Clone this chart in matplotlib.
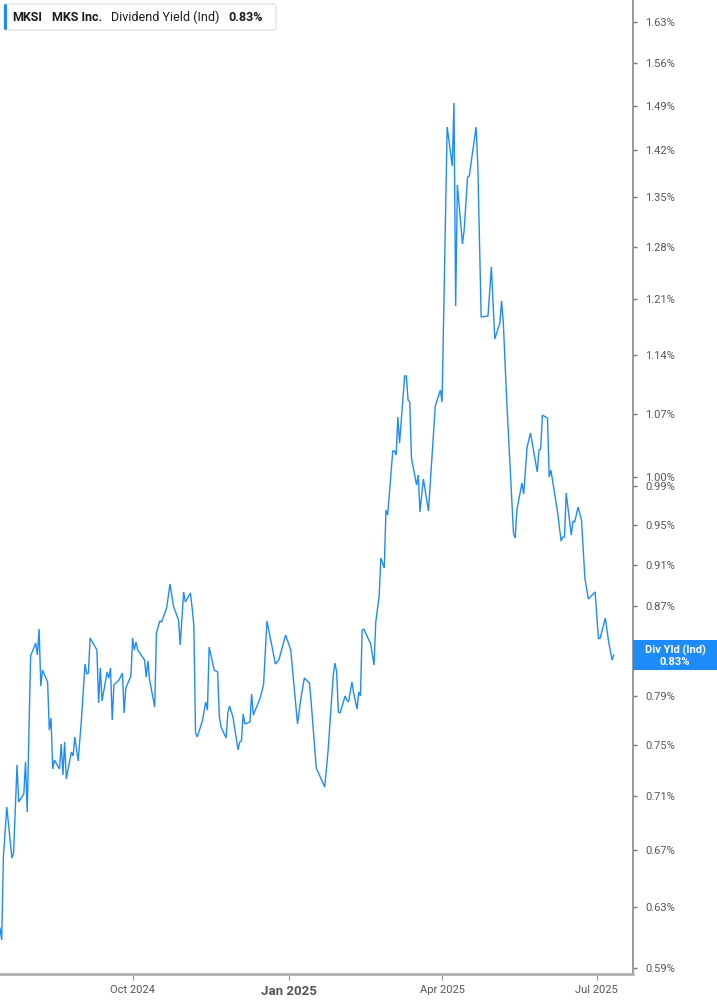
import matplotlib
matplotlib.use("Agg")
import matplotlib.pyplot as plt
from matplotlib.patches import FancyBboxPatch, Rectangle
from matplotlib.ticker import FixedLocator, NullLocator, FuncFormatter
import pandas as pd

plt.rcParams['font.family'] = ['Roboto', 'DejaVu Sans']

dates = [
    "2024-07-15", "2024-07-16", "2024-07-17", "2024-07-19", "2024-07-22", "2024-07-23", "2024-07-25", "2024-07-26",
    "2024-07-29", "2024-07-30", "2024-07-31", "2024-08-02", "2024-08-05", "2024-08-06", "2024-08-07", "2024-08-08",
    "2024-08-09", "2024-08-12", "2024-08-13", "2024-08-14", "2024-08-15", "2024-08-16", "2024-08-19", "2024-08-20",
    "2024-08-21", "2024-08-22", "2024-08-23", "2024-08-26", "2024-08-27", "2024-08-28", "2024-08-30", "2024-09-01",
    "2024-09-03", "2024-09-04", "2024-09-05", "2024-09-06", "2024-09-10", "2024-09-11", "2024-09-12", "2024-09-13",
    "2024-09-16", "2024-09-17", "2024-09-18", "2024-09-19", "2024-09-20", "2024-09-23", "2024-09-25", "2024-09-26",
    "2024-09-27", "2024-09-30", "2024-10-01", "2024-10-02", "2024-10-03", "2024-10-04", "2024-10-08", "2024-10-09",
    "2024-10-10", "2024-10-11", "2024-10-14", "2024-10-15", "2024-10-17", "2024-10-18", "2024-10-21", "2024-10-23",
    "2024-10-25", "2024-10-28", "2024-10-29", "2024-10-31", "2024-11-01", "2024-11-04", "2024-11-05", "2024-11-06",
    "2024-11-07", "2024-11-08", "2024-11-11", "2024-11-13", "2024-11-14", "2024-11-15", "2024-11-18", "2024-11-20",
    "2024-11-21", "2024-11-22", "2024-11-25", "2024-11-26", "2024-11-27", "2024-11-29", "2024-12-02", "2024-12-03",
    "2024-12-04", "2024-12-05", "2024-12-06", "2024-12-09", "2024-12-10", "2024-12-11", "2024-12-15", "2024-12-17",
    "2024-12-19", "2024-12-21", "2024-12-24", "2024-12-26", "2024-12-30", "2025-01-02", "2025-01-06", "2025-01-08",
    "2025-01-10", "2025-01-13", "2025-01-14", "2025-01-17", "2025-01-22", "2025-01-24", "2025-01-27", "2025-01-28",
    "2025-01-29", "2025-01-30", "2025-01-31", "2025-02-03", "2025-02-04", "2025-02-05", "2025-02-07", "2025-02-08",
    "2025-02-10", "2025-02-11", "2025-02-12", "2025-02-13", "2025-02-14", "2025-02-18", "2025-02-20", "2025-02-21",
    "2025-02-23", "2025-02-24", "2025-02-26", "2025-02-27", "2025-02-28", "2025-03-03", "2025-03-04", "2025-03-05",
    "2025-03-06", "2025-03-07", "2025-03-10", "2025-03-11", "2025-03-12", "2025-03-13", "2025-03-14", "2025-03-17",
    "2025-03-18", "2025-03-19", "2025-03-21", "2025-03-24", "2025-03-28", "2025-03-31", "2025-04-01", "2025-04-04",
    "2025-04-07", "2025-04-08", "2025-04-09", "2025-04-10", "2025-04-13", "2025-04-14", "2025-04-16", "2025-04-17",
    "2025-04-21", "2025-04-22", "2025-04-24", "2025-04-28", "2025-04-30", "2025-05-02", "2025-05-05", "2025-05-06",
    "2025-05-07", "2025-05-09", "2025-05-11", "2025-05-13", "2025-05-14", "2025-05-15", "2025-05-18", "2025-05-19",
    "2025-05-21", "2025-05-23", "2025-05-27", "2025-05-28", "2025-05-29", "2025-05-30", "2025-06-02", "2025-06-03",
    "2025-06-04", "2025-06-08", "2025-06-10", "2025-06-11", "2025-06-12", "2025-06-13", "2025-06-16", "2025-06-17",
    "2025-06-18", "2025-06-20", "2025-06-22", "2025-06-24", "2025-06-26", "2025-06-30", "2025-07-02", "2025-07-03",
    "2025-07-06", "2025-07-08", "2025-07-10", "2025-07-11",
]

div_yield = [
    0.6159, 0.6080, 0.6647, 0.7014, 0.6640, 0.6676, 0.7338, 0.7052,
    0.7113, 0.7361, 0.6976, 0.8249, 0.8365, 0.8258, 0.8491, 0.7987,
    0.8125, 0.8022, 0.7618, 0.7717, 0.7306, 0.7377, 0.7306, 0.7505,
    0.7259, 0.7521, 0.7228, 0.7441, 0.7409, 0.7561, 0.7369, 0.7726,
    0.8178, 0.8091, 0.8099, 0.8410, 0.8302, 0.7843, 0.8143, 0.7860,
    0.8108, 0.8056, 0.8143, 0.7701, 0.7996, 0.8039, 0.8099, 0.7759,
    0.7970, 0.8074, 0.8410, 0.8302, 0.8374, 0.8302, 0.8213, 0.8065,
    0.8205, 0.8039, 0.7809, 0.8455, 0.8565, 0.8555, 0.8685, 0.8912,
    0.8704, 0.8574, 0.8347, 0.8836, 0.8741, 0.8826, 0.8685, 0.8528,
    0.7594, 0.7561, 0.7692, 0.7851, 0.7784, 0.8329, 0.8125, 0.8108,
    0.7726, 0.7643, 0.7553, 0.7759, 0.7817, 0.7726, 0.7457, 0.7521,
    0.7529, 0.7751, 0.7668, 0.7684, 0.7919, 0.7742, 0.7885, 0.7996,
    0.8565, 0.8410, 0.8178, 0.8213, 0.8437, 0.8302, 0.7668, 0.7885,
    0.8056, 0.8013, 0.7851, 0.7314, 0.7166, 0.7457, 0.8082, 0.8187,
    0.8108, 0.7767, 0.7759, 0.7902, 0.7868, 0.7851, 0.8022, 0.7927,
    0.7792, 0.7936, 0.7902, 0.8482, 0.8491, 0.8356, 0.8169, 0.8555,
    0.8798, 0.9164, 0.9066, 0.9649, 0.9597, 1.0280, 1.0280, 1.0236,
    1.0663, 1.0369, 1.1143, 1.1143, 1.0859, 1.0836, 1.0203, 0.9911,
    1.0018, 0.9628, 0.9976, 0.9638, 1.0789, 1.0976, 1.0836, 1.4560,
    1.3963, 1.4940, 1.2013, 1.3681, 1.2841, 1.3035, 1.3799, 1.3814,
    1.4560, 1.3993, 1.1872, 1.1885, 1.2527, 1.1595, 1.1796, 1.2078,
    1.1808, 1.0859, 1.0105, 0.9413, 0.9363, 0.9649, 0.9933, 0.9816,
    1.0324, 1.0481, 1.0051, 1.0292, 1.0303, 1.0685, 1.0651, 0.9997,
    1.0072, 0.9618, 0.9333, 0.9373, 0.9373, 0.9827, 0.9393, 0.9535,
    0.9525, 0.9680, 0.9546, 0.8969, 0.8769, 0.8836, 0.8401, 0.8410,
    0.8592, 0.8374, 0.8213, 0.8258,
]

y_ticks = [0.59, 0.63, 0.67, 0.71, 0.75, 0.79, 0.87, 0.91, 0.95, 0.99, 1.00,
           1.07, 1.14, 1.21, 1.28, 1.35, 1.42, 1.49, 1.56, 1.63]
x_ticks = ["2024-10-01", "2025-01-01", "2025-04-01", "2025-07-01"]
x_tick_labels = ["Oct 2024", "Jan 2025", "Apr 2025", "Jul 2025"]
x_range = ["2024-07-15", "2025-07-22"]
y_range = [0.5862, 1.6688]

ticker_sym = "MKSI"
company = "MKS Inc."
metric = "Dividend Yield (Ind)"
last_label = "Div Yld (Ind)"
last_value = div_yield[-1]

BLUE = "#1E8CF8"
W, H = 717, 1005
fig = plt.figure(figsize=(W / 100, H / 100), dpi=100)
fig.patch.set_facecolor("white")

ax_bottom_px = 974
ax_right_px = 632.5
ax = fig.add_axes([0, (H - ax_bottom_px) / H, ax_right_px / W, ax_bottom_px / H])
x = pd.to_datetime(dates)
ax.plot(x, div_yield, color=BLUE, lw=1.0, solid_joinstyle="miter")

ax.set_yscale("log")
ax.set_ylim(*y_range)
ax.set_xlim(pd.to_datetime(x_range[0]), pd.to_datetime(x_range[1]))

ax.yaxis.set_major_locator(FixedLocator(y_ticks))
ax.yaxis.set_minor_locator(NullLocator())
ax.yaxis.set_major_formatter(FuncFormatter(lambda v, p: f"{v:.2f}%"))
ax.yaxis.tick_right()
ax.tick_params(axis="y", which="major", direction="out", length=3, width=1,
               color="#777777", labelsize=8, labelcolor="#555555", pad=6)

ax.set_xticks(pd.to_datetime(x_ticks))
ax.set_xticklabels(x_tick_labels)
ax.tick_params(axis="x", direction="out", length=4, width=0.8, color="#999999",
               labelsize=8, labelcolor="#555555", pad=4)
for lbl in ax.get_xticklabels():
    if lbl.get_text() == "Jan 2025":
        lbl.set_fontweight("bold")
        lbl.set_fontsize(9.5)

for s in ["top", "left"]:
    ax.spines[s].set_visible(False)
ax.spines["right"].set_color("#9a9a9a")
ax.spines["right"].set_linewidth(1.4)
ax.spines["bottom"].set_color("#b0b0b0")
ax.spines["bottom"].set_linewidth(2.0)
ax.set_facecolor("white")

# overlay in pixel coordinates for header and value label
ov = fig.add_axes([0, 0, 1, 1], facecolor="none")
ov.set_xlim(0, W)
ov.set_ylim(H, 0)
ov.axis("off")

ov.add_patch(FancyBboxPatch((4, 4), 272, 26, boxstyle="round,pad=0,rounding_size=3",
                            facecolor="white", edgecolor="#e3e3e3", lw=1.0))
ov.add_patch(FancyBboxPatch((4, 4), 3, 26, boxstyle="round,pad=0,rounding_size=1.5",
                            facecolor=BLUE, edgecolor="none"))
ty = 17.5
ov.text(12, ty, ticker_sym, fontsize=9, fontweight="bold", color="#1a1a1a", va="center", ha="left")
ov.text(52, ty, company, fontsize=9, fontweight="bold", color="#1a1a1a", va="center", ha="left")
ov.text(111, ty, metric, fontsize=9, color="#1a1a1a", va="center", ha="left")
ov.text(228, ty, f"{last_value:.2f}%", fontsize=9, fontweight="bold", color="#1a1a1a", va="center", ha="left")

ov.add_patch(Rectangle((633, 640), 84, 30, facecolor=BLUE, edgecolor="none"))
ov.text(675, 650, last_label, fontsize=8, fontweight="bold", color="white", va="center", ha="center")
ov.text(675, 661.5, f"{last_value:.2f}%", fontsize=8, fontweight="bold", color="white", va="center", ha="center")

fig.savefig("out.png", dpi=100, facecolor="white")
